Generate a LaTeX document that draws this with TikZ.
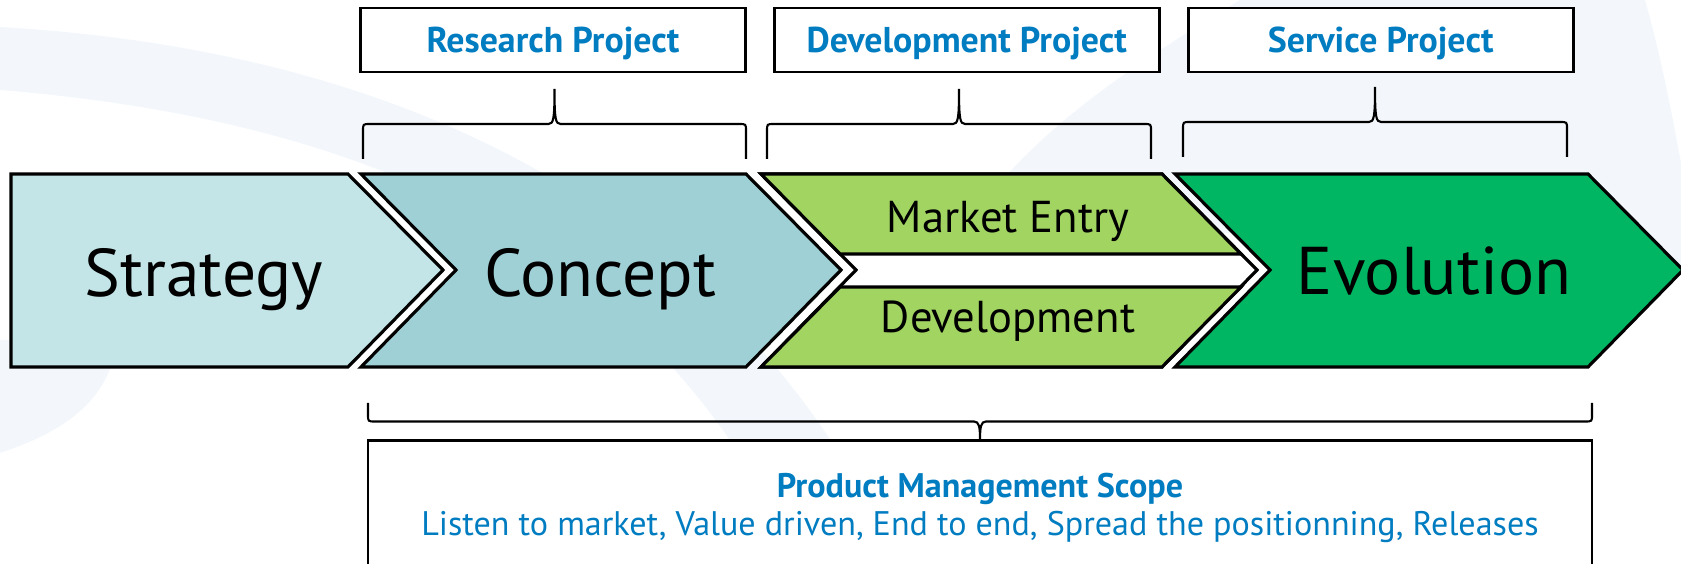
\documentclass[tikz,border=0pt]{standalone}
\usepackage{fontspec}
\setmainfont{PT Sans}
\usepackage{tikz}
\usetikzlibrary{positioning}
\definecolor{stratfill}{RGB}{196,229,232}
\definecolor{concfill}{RGB}{158,208,214}
\definecolor{devfill}{RGB}{162,212,98}
\definecolor{evofill}{RGB}{0,182,98}
\definecolor{pmblue}{RGB}{0,124,193}
\definecolor{swoosh}{RGB}{243,247,251}
% curly bracket: left x, right x, foot y, rise, direction (1 up, -1 down)
\newcommand{\pbrace}[5]{\pgfmathsetmacro\bmid{(#1+#2)/2}
  \begin{scope}[shift={(0,#3)},yscale=#5]
  \draw[semithick] (#1,0) -- (#1,#4-0.07) .. controls (#1,#4) .. (#1+0.07,#4)
    -- (\bmid-0.06,#4) .. controls (\bmid-0.01,#4) and (\bmid,#4+0.05) .. (\bmid,2*#4)
    .. controls (\bmid,#4+0.05) and (\bmid+0.01,#4) .. (\bmid+0.06,#4)
    -- (#2-0.07,#4) .. controls (#2,#4) .. (#2,#4-0.07) -- (#2,0);
  \end{scope}}

\begin{document}
\begin{tikzpicture}[
  stage/.style={draw=black,line width=0.9pt},
  projbox/.style={draw=black,thick,fill=white,minimum width=3.85cm,minimum height=0.64cm,
    text height=7.4pt,text depth=0pt,text=pmblue,font=\fontsize{10.2}{12}\selectfont\bfseries},
  big/.style={anchor=base,font=\fontsize{19.2}{22}\selectfont},
  mid/.style={anchor=base,font=\fontsize{12.7}{14}\selectfont}]
\useasboundingbox (0,0) rectangle (16.81,5.63);
\clip (0,0) rectangle (16.81,5.63);
% faint background swooshes
\fill[swoosh] (0,5.36) .. controls (4.5,5.1) and (7.5,3.2) .. (9.0,0) -- (8.0,0)
  .. controls (6.6,3.0) and (4.0,4.4) .. (0,4.73) -- cycle;
\fill[swoosh] (12.4,5.63) .. controls (11.2,4.9) and (10.3,4.3) .. (9.6,3.3) -- (12.6,3.3) -- (16.81,2.93)
  -- (16.81,4.0) .. controls (16.7,4.6) and (16.6,5.1) .. (16.45,5.63) -- cycle;
\fill[swoosh] (0,2.23) -- (1.17,2.23) .. controls (1.1,1.6) and (0.6,1.3) .. (0,1.1) -- cycle;
% stages
\draw[stage,fill=stratfill] (0.11,1.96)--(0.11,3.89)--(3.48,3.89)--(4.43,2.93)--(3.48,1.96)--cycle;
\draw[stage,fill=concfill] (3.61,1.96)--(4.56,2.93)--(3.61,3.89)--(7.46,3.89)--(8.41,2.93)--(7.46,1.96)--cycle;
\draw[stage,fill=white] (7.61,1.96)--(8.56,2.93)--(7.61,3.89)--(11.62,3.89)--(12.57,2.93)--(11.62,1.96)--cycle;
\draw[stage,fill=devfill] (7.61,3.89)--(11.62,3.89)--(12.41,3.09)--(8.40,3.09)--cycle;
\draw[stage,fill=devfill] (8.40,2.76)--(12.41,2.76)--(11.62,1.96)--(7.61,1.96)--cycle;
\draw[stage,fill=evofill] (11.75,1.96)--(12.70,2.93)--(11.75,3.89)--(15.88,3.89)--(16.83,2.93)--(15.88,1.96)--cycle;
\node[big] (strat) at (2.04,2.66) {Strategy};
\node[big] (conc) at (6.00,2.66) {Concept};
\node[mid] (entry) at (10.08,3.30) {Market Entry};
\node[mid] (devt) at (10.08,2.30) {Development};
\node[big] (evo) at (14.34,2.68) {Evolution};
% projects
\node[projbox] (res) at (5.53,5.23) {Research Project};
\node[projbox,right=0.26cm of res] (dev) {Development Project};
\node[projbox,right=0.26cm of dev] (srv) {Service Project};
\pbrace{3.63}{7.46}{4.04}{0.35}{1}
\pbrace{7.67}{11.51}{4.04}{0.35}{1}
\pbrace{11.83}{15.67}{4.06}{0.35}{1}
% product management scope
\pbrace{3.68}{15.92}{1.60}{0.185}{-1}
\node[draw=black,thick,fill=white,minimum width=12.24cm,minimum height=1.8cm,anchor=north] (pms) at (9.80,1.24) {};
\node[align=center,text=pmblue,font=\fontsize{9.7}{10.8}\selectfont] (pmstxt) at (9.80,0.55)
  {\textbf{Product Management Scope}\\Listen to market, Value driven, End to end, Spread the positionning, Releases};
\end{tikzpicture}
\end{document}
